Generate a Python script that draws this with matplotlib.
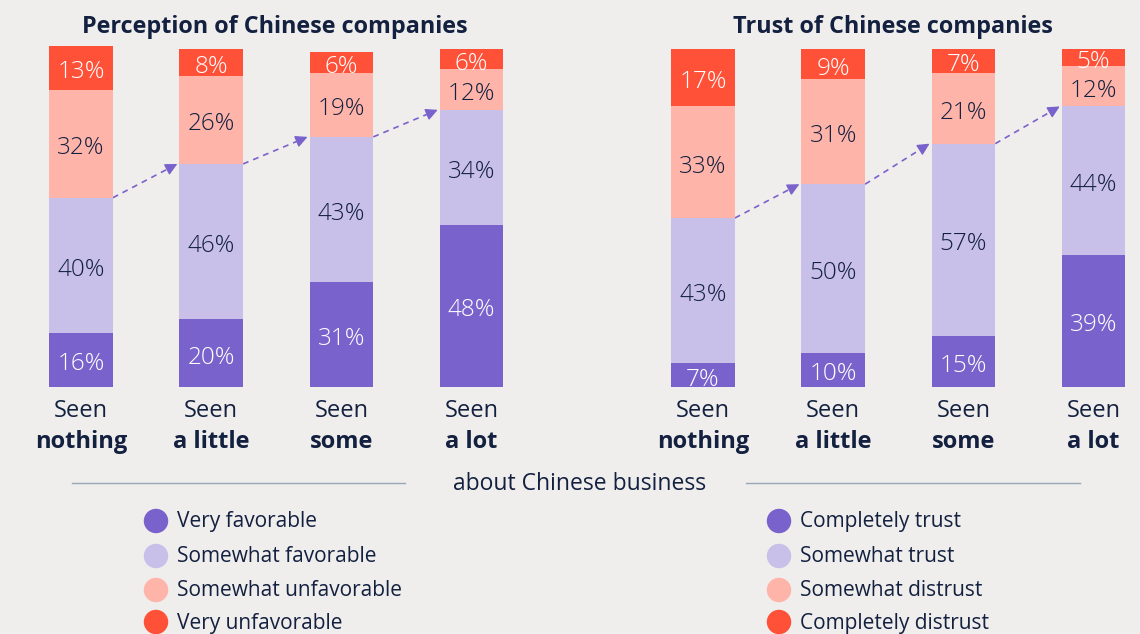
"""
Stacked bars: perception and trust of Chinese companies by exposure.
"""

import matplotlib.pyplot as plt

plt.rcParams['font.family'] = ['Open Sans', 'DejaVu Sans']

W, H = 1140, 634
BG = '#efeeec'
NAVY = '#13203f'
COLORS = ['#7a62cc', '#c9c0ea', '#ffb4aa', '#ff5038']
ARROW = '#7a62cc'
RULE = '#9ba6b4'

groups = ['nothing', 'a little', 'some', 'a lot']

perception_labels = ['Very favorable', 'Somewhat favorable',
                     'Somewhat unfavorable', 'Very unfavorable']
very_favorable = [16, 20, 31, 48]
somewhat_favorable = [40, 46, 43, 34]
somewhat_unfavorable = [32, 26, 19, 12]
very_unfavorable = [13, 8, 6, 6]

trust_labels = ['Completely trust', 'Somewhat trust',
                'Somewhat distrust', 'Completely distrust']
completely_trust = [7, 10, 15, 39]
somewhat_trust = [43, 50, 57, 44]
somewhat_distrust = [33, 31, 21, 12]
completely_distrust = [17, 9, 7, 5]

# pixel layout helpers
BASE = 387.0      # pixel row of the zero line
PX_PER = 3.38     # pixels per percentage point
SPACING = 130.2   # pixels between bar centers
XPAD = 0.3
YTOP = 103


def px_axes(fig, first_center):
    left = first_center - XPAD * SPACING
    width = (3 + 2 * XPAD) * SPACING
    top = BASE - YTOP * PX_PER
    return fig.add_axes([left / W, 1 - BASE / H, width / W, (BASE - top) / H])


def draw_panel(ax, series):
    x = list(range(len(groups)))
    bottoms = [0] * len(groups)
    for k, vals in enumerate(series):
        ax.bar(x, vals, bottom=bottoms, width=0.49, color=COLORS[k],
               edgecolor='none', zorder=2)
        for i, v in enumerate(vals):
            ax.text(i, bottoms[i] + v / 2 - 1.3, f'{v}%', ha='center',
                    va='center', fontsize=17.5, fontweight='light',
                    color='white' if k in (0, 3) else NAVY, zorder=3)
        bottoms = [b + v for b, v in zip(bottoms, vals)]

    # dashed arrows between the favourable totals
    fav = [a + b for a, b in zip(series[0], series[1])]
    for i in range(len(groups) - 1):
        x0, y0 = i + 0.245, fav[i]
        x1, y1 = i + 1 - 0.26, fav[i + 1]
        ax.plot([x0, x1 - 0.06], [y0, y1 - (y1 - y0) * 0.06 / (x1 - x0)],
                ls=(0, (3.5, 3)), lw=1.2, color=ARROW, zorder=1)
        ax.annotate('', xy=(x1, y1),
                    xytext=(x1 - 0.02, y1 - (y1 - y0) * 0.02 / (x1 - x0)),
                    arrowprops=dict(arrowstyle='-|>', color=ARROW, lw=1,
                                    mutation_scale=18, shrinkA=0, shrinkB=0))

    for i, g in enumerate(groups):
        ax.text(i, -9.0, 'Seen', ha='center', va='baseline', fontsize=17,
                color=NAVY, clip_on=False)
        ax.text(i, -18.0, g, ha='center', va='baseline', fontsize=17,
                fontweight='bold', color=NAVY, clip_on=False)

    ax.set_xlim(-XPAD, 3 + XPAD)
    ax.set_ylim(0, YTOP)
    ax.axis('off')
    ax.patch.set_alpha(0)


fig = plt.figure(figsize=(W / 100, H / 100), dpi=100, facecolor=BG)

ax1 = px_axes(fig, 81)
draw_panel(ax1, [very_favorable, somewhat_favorable,
                 somewhat_unfavorable, very_unfavorable])
ax2 = px_axes(fig, 703)
draw_panel(ax2, [completely_trust, somewhat_trust,
                 somewhat_distrust, completely_distrust])

# overlay in pixel coordinates for titles, rule and legends
ov = fig.add_axes([0, 0, 1, 1], zorder=-1)
ov.set_xlim(0, W)
ov.set_ylim(H, 0)
ov.axis('off')
ov.patch.set_alpha(0)

ov.text(275, 27, 'Perception of Chinese companies', ha='center', va='center',
        fontsize=16.8, fontweight='bold', color=NAVY)
ov.text(893, 27, 'Trust of Chinese companies', ha='center', va='center',
        fontsize=16.8, fontweight='bold', color=NAVY)

ov.plot([72, 405], [483, 483], color=RULE, lw=1)
ov.plot([746, 1080], [483, 483], color=RULE, lw=1)
ov.text(580, 484, 'about Chinese business', ha='center', va='center',
        fontsize=16.5, color=NAVY)

rows = [521, 556, 590, 622]
for cx, labels in [(156, perception_labels), (779, trust_labels)]:
    for k, lab in enumerate(labels):
        ov.scatter([cx], [rows[k]], s=310, color=COLORS[k], edgecolors='none')
        ov.text(cx + 21, rows[k] + 1, lab, ha='left', va='center',
                fontsize=15, color=NAVY)

fig.savefig('out.png', dpi=100, facecolor=BG)
